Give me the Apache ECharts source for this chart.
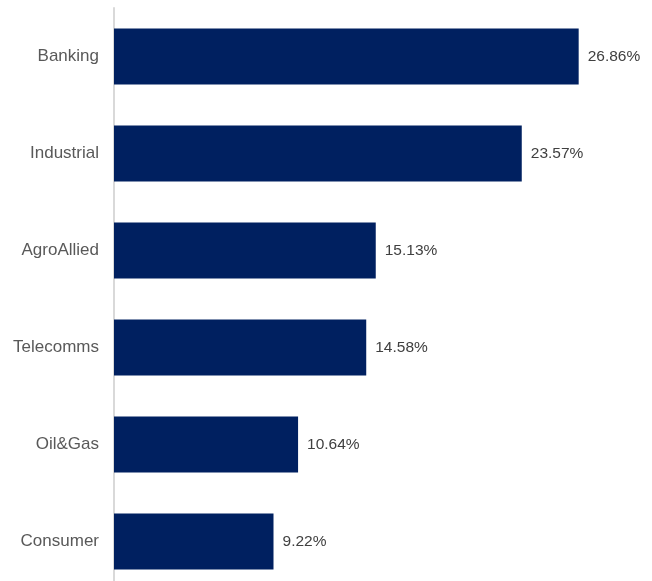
<!DOCTYPE html>
<html>
<head>
<meta charset="utf-8">
<style>
  html, body { margin: 0; padding: 0; background: #ffffff; }
  #chart { width: 652px; height: 581px; }
</style>
<script src="https://cdn.jsdelivr.net/npm/echarts@6/dist/echarts.min.js"></script>
</head>
<body>
<div id="chart"></div>
<script>
// Sector weights (%), listed top to bottom
const sectors = ['Banking', 'Industrial', 'AgroAllied', 'Telecomms', 'Oil&Gas', 'Consumer'];
const weights = [26.86, 23.57, 15.13, 14.58, 10.64, 9.22];

const chart = echarts.init(document.getElementById('chart'), null, { renderer: 'canvas' });

chart.setOption({
  animation: false,
  backgroundColor: '#ffffff',
  grid: {
    left: 114, top: 8, width: 519, height: 582,
    containLabel: false,
    outerBoundsMode: 'none'
  },
  xAxis: {
    type: 'value',
    min: 0,
    max: 30,
    show: false
  },
  yAxis: {
    type: 'category',
    data: sectors,
    inverse: true,
    axisLine: { show: true, lineStyle: { color: '#d9d9d9', width: 2 } },
    axisTick: { show: false },
    splitLine: { show: false },
    axisLabel: {
      margin: 15,
      color: '#595959',
      fontFamily: 'Liberation Sans, Arial, sans-serif',
      fontSize: 17
    }
  },
  series: [{
    type: 'bar',
    data: weights,
    barWidth: 56,
    itemStyle: { color: '#002060' },
    label: {
      show: true,
      position: 'right',
      distance: 9,
      color: '#404040',
      fontFamily: 'Liberation Sans, Arial, sans-serif',
      fontSize: 15.5,
      formatter: p => p.value.toFixed(2) + '%'
    }
  }]
});
</script>
</body>
</html>
